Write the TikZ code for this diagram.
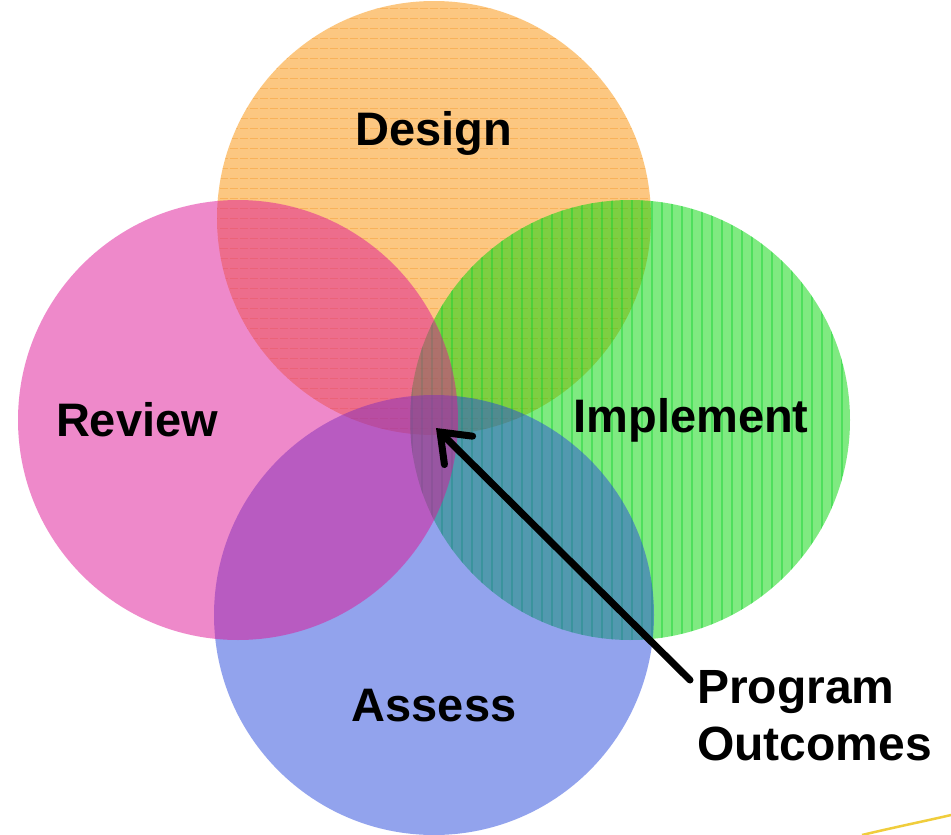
\documentclass[tikz,border=0pt]{standalone}
\usepackage{fontspec}
\setmainfont{Liberation Sans}
\usetikzlibrary{arrows.meta}
\definecolor{cdesign}{RGB}{250,145,5}
\definecolor{creview}{RGB}{223,21,151}
\definecolor{cimpl}{RGB}{0,215,5}
\definecolor{cassess}{RGB}{39,73,221}
\definecolor{lineor}{RGB}{245,140,20}
\definecolor{linegr}{RGB}{20,210,50}
\definecolor{swoosh}{RGB}{240,205,60}
\tikzset{
  lbl/.style={font=\fontsize{47}{54}\selectfont\bfseries, text=black, inner sep=0pt},
  disc/.style={fill opacity=0.5},
  pointer/.style={line width=7pt, line cap=round, -{Straight Barb[length=26pt,width=40pt,line cap=round]}}
}
\begin{document}
\begin{tikzpicture}[x=1pt,y=-1pt]
\useasboundingbox (0,0) rectangle (951,835);
\fill[white] (0,0) rectangle (951,835);
% Design
\fill[cdesign, disc] (434,218) circle (217);
\begin{scope}
  \clip (434,218) circle (217);
  \foreach \yy in {8,18,...,440} \draw[lineor, line width=1pt, draw opacity=0.35, dash pattern=on 8pt off 2pt] (210,\yy) -- (660,\yy);
\end{scope}
% Implement
\fill[cimpl, disc] (630,420) circle (220);
\begin{scope}
  \clip (630,420) circle (220);
  \foreach \xx in {412,422,...,850} \draw[linegr, line width=1.2pt, draw opacity=0.45] (\xx,195) -- (\xx,645);
\end{scope}
% Assess
\fill[cassess, disc] (434,615) circle (220);
% Review
\fill[creview, disc] (238,420) circle (220);
\node[lbl] (design) at (434,133) {Design};
\node[lbl] (review) at (137,420) {Review};
\node[lbl] (implement) at (691,420) {Implement};
\node[lbl] (assess) at (434,706) {Assess};
\node[lbl, align=left, anchor=west, font=\fontsize{48}{57}\selectfont\bfseries] (outcomes) at (697,716) {Program\\Outcomes};
\coordinate (tip) at (436,428);
\coordinate (tail) at (690,680);
\draw[pointer] (tail) -- (tip);
\draw[swoosh, line width=2.5pt] (862,835) .. controls (900,826) and (930,820) .. (951,815);
\end{tikzpicture}
\end{document}
